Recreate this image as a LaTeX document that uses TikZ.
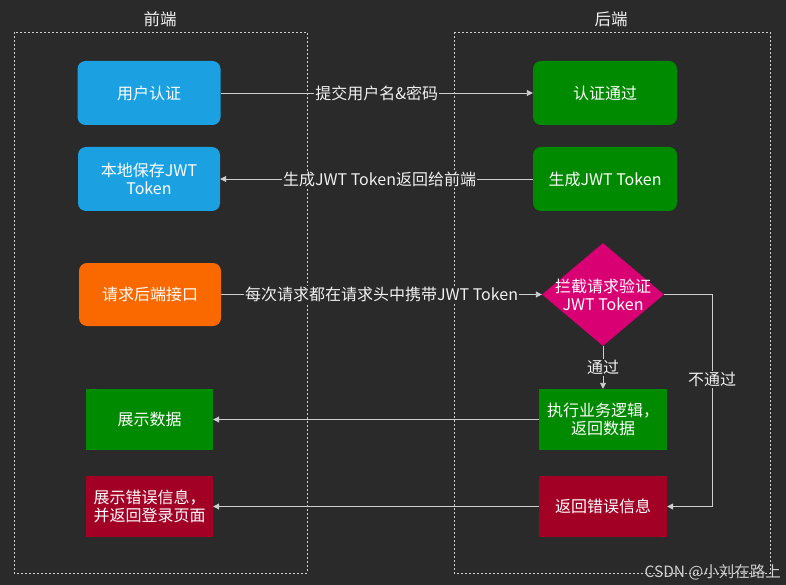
\documentclass[tikz,border=0pt]{standalone}
\usepackage{fontspec}
\setmainfont{Noto Sans CJK SC}
\usetikzlibrary{shapes.geometric,arrows.meta}
\definecolor{bg}{HTML}{2A2A2A}
\definecolor{ln}{HTML}{CFCFCF}
\definecolor{fblue}{HTML}{1BA1E2}
\definecolor{fgreen}{HTML}{008A00}
\definecolor{forange}{HTML}{FA6800}
\definecolor{fmag}{HTML}{D80073}
\definecolor{fred}{HTML}{A20025}
\definecolor{txt}{HTML}{F0F0F0}
\tikzset{
  base/.style={font=\fontsize{16}{18}\selectfont, text=white, align=center, inner sep=0pt},
  rbox/.style={base, rounded corners=8pt, minimum width=143pt, minimum height=64pt},
  sbox/.style={base, minimum width=127pt, minimum height=61pt},
  frame/.style={draw=ln, densely dashed, dash pattern=on 2pt off 2pt, line width=0.8pt},
  arr/.style={draw=ln, line width=0.9pt, -{Triangle[length=6pt,width=6pt]}},
  lbl/.style={font=\fontsize{16}{18}\selectfont, text=txt, fill=bg, inner sep=1pt},
  head/.style={font=\fontsize{16.5}{19}\selectfont, text=txt}
}
\begin{document}
\begin{tikzpicture}[x=1pt,y=-1pt]
\fill[bg] (0,0) rectangle (786,585);
\useasboundingbox (0,0) rectangle (786,585);
% frames
\draw[frame] (14,32) rectangle (307,573);
\draw[frame] (454,32) rectangle (770,573);
\node[head] (hf) at (160,19) {前端};
\node[head] (hb) at (611,19) {后端};
% frontend nodes
\node[rbox, fill=fblue] (auth) at (149,93) {用户认证};
\node[rbox, fill=fblue, minimum width=142pt] (save) at (149,179) {本地保存JWT\\Token};
\node[rbox, fill=forange, minimum width=142pt, minimum height=63pt] (req) at (150,294.5) {请求后端接口};
\node[sbox, fill=fgreen] (show) at (149.5,419.5) {展示数据};
\node[sbox, fill=fred] (showerr) at (149.5,506.5) {展示错误信息，\\并返回登录页面};
% backend nodes
\node[rbox, fill=fgreen, minimum width=144pt] (ok) at (605,93) {认证通过};
\node[rbox, fill=fgreen, minimum width=144pt] (gen) at (605,179) {生成JWT Token};
\node[diamond, base, inner sep=-16pt, fill=fmag, minimum width=122pt, minimum height=103pt, aspect=1.18] (chk) at (603,294.5) {拦截请求验证\\JWT Token};
\node[sbox, fill=fgreen, minimum width=128pt] (exec) at (603,419.5) {执行业务逻辑，\\返回数据};
\node[sbox, fill=fred, minimum width=128pt] (err) at (603,506.5) {返回错误信息};
% connectors
\draw[arr] (auth.east) -- node[lbl] {提交用户名\&密码} (ok.west);
\draw[arr] (gen.west) -- node[lbl, xshift=3pt] {生成JWT Token返回给前端} (save.east);
\draw[arr] (req.east) -- node[lbl] {每次请求都在请求头中携带JWT Token} (chk.west);
\draw[arr] (chk.south) -- node[lbl] {通过} (exec.north);
\coordinate (c1) at (712,294.5);
\coordinate (c2) at (712,506.5);
\draw[arr] (chk.east) -- (c1) -- node[lbl, pos=0.4] {不通过} (c2) -- (err.east);
\draw[arr] (exec.west) -- (show.east);
\draw[arr] (err.west) -- (showerr.east);
% watermark
\node[font=\fontsize{15.5}{17}\selectfont, text=ln, anchor=east, inner sep=0pt] (wm) at (781,572) {CSDN @小刘在路上};
\end{tikzpicture}
\end{document}
